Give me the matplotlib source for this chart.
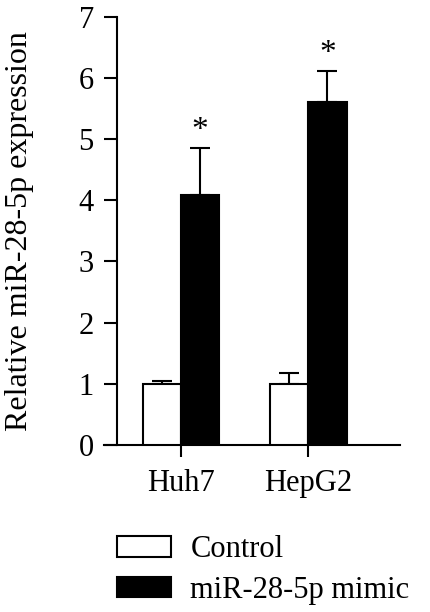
import numpy as np
import matplotlib
matplotlib.use("Agg")
import matplotlib.pyplot as plt
from matplotlib.patches import Patch

plt.rcParams['font.family'] = ['Liberation Serif', 'DejaVu Serif']

cells = ["Huh7", "HepG2"]
control = [1.0, 1.0]
control_err = [0.05, 0.17]
mimic = [4.08, 5.6]
mimic_err = [0.78, 0.52]
series_names = ["Control", "miR-28-5p mimic"]

fig = plt.figure(figsize=(4.3, 6.12), dpi=100)
# axes box: x-axis line runs from ~104 px to 400 px, y from 445 px (0) to 16.7 px (7)
ax = fig.add_axes([104/430, 1 - 445/612, 296/430, (445 - 16.7)/612])

x = np.arange(len(cells))
w = 0.3
lw = 1.5
ax.bar(x - w/2, control, w, color="white", edgecolor="black", linewidth=lw, zorder=3)
ax.bar(x + w/2, mimic, w, color="black", edgecolor="black", linewidth=lw, zorder=3)
ax.errorbar(x - w/2, control, yerr=[np.zeros(2), control_err], fmt="none",
            ecolor="black", elinewidth=lw, capsize=7, capthick=lw, zorder=2)
ax.errorbar(x + w/2, mimic, yerr=[np.zeros(2), mimic_err], fmt="none",
            ecolor="black", elinewidth=lw, capsize=7, capthick=lw, zorder=2)

# significance stars
for xi, m, e in zip(x, mimic, mimic_err):
    ax.text(xi + w/2, m + e + 0.02, "*", ha="center", va="bottom", fontsize=24)

ax.set_xlim(-0.605, 1.72)
ax.set_ylim(0, 7)
ax.set_yticks(range(0, 8))
ax.set_xticks(x)
ax.set_xticklabels(cells)
ax.spines['top'].set_visible(False)
ax.spines['right'].set_visible(False)
ax.spines['left'].set_position(('axes', 0.0429))
ax.spines['left'].set_linewidth(lw)
ax.spines['bottom'].set_linewidth(lw)
ax.tick_params(axis='y', length=9.5, width=lw, labelsize=22, pad=7)
ax.tick_params(axis='x', length=8.6, width=lw, labelsize=22, pad=9)
ax.set_ylabel("Relative miR-28-5p expression", fontsize=23)
ax.yaxis.set_label_coords(-0.235, 0.5)

handles = [Patch(facecolor="white", edgecolor="black", linewidth=lw),
           Patch(facecolor="black", edgecolor="black", linewidth=lw)]
fig.legend(handles, series_names, loc="upper left", bbox_to_anchor=(108/430, 1 - 526/612),
           frameon=False, fontsize=22, handlelength=1.75, handleheight=0.65,
           handletextpad=0.65, labelspacing=0.38, borderaxespad=0, borderpad=0.3)

fig.savefig("out.png", dpi=100)
